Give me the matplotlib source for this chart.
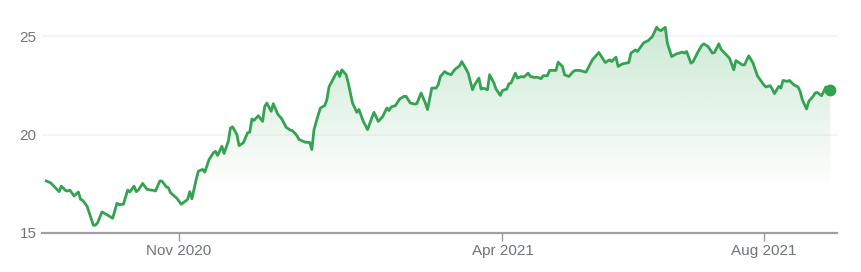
import numpy as np
import pandas as pd
import matplotlib
matplotlib.use("Agg")
import matplotlib.pyplot as plt
import matplotlib.dates as mdates
from matplotlib.colors import to_rgb

start_date = "2020-08-31"
day_offsets = [
    0, 2, 4, 6, 7, 9, 10, 11, 13, 15, 16, 17, 19, 20, 22, 23, 24, 26, 28, 31,
    33, 34, 36, 38, 39, 41, 42, 43, 45, 47, 49, 50, 51, 53, 54, 56, 57, 58, 61, 63,
    65, 66, 67, 68, 70, 71, 73, 74, 76, 78, 79, 80, 82, 83, 85, 86, 87, 89, 90, 92,
    94, 95, 96, 97, 99, 101, 102, 103, 105, 106, 108, 110, 112, 114, 115, 117, 118,
    121, 123, 124, 125, 127, 128, 130, 131, 132, 135, 136, 137, 138, 140, 141, 143,
    145, 146, 148, 149, 150, 152, 153, 155, 157, 159, 160, 161, 163, 165, 167, 168,
    170, 172, 173, 175, 177, 178, 180, 182, 183, 184, 186, 187, 189, 190, 191, 193,
    194, 196, 197, 199, 200, 202, 203, 204, 206, 207, 209, 210, 212, 213, 215, 216,
    217, 219, 220, 222, 223, 225, 226, 228, 229, 231, 232, 234, 235, 238, 239, 241,
    242, 244, 246, 247, 249,
    252, 255, 258, 260, 261, 263, 264, 266, 267, 269, 272, 273, 275, 276, 279, 281,
    283, 285, 286, 287, 289, 290, 292, 294, 297, 298, 299, 301, 302, 304, 306, 307,
    309, 311, 312, 314, 315, 318, 319, 321, 322, 325, 326, 328, 330, 332, 335, 336,
    338, 339, 340, 342, 343, 344, 346, 347, 349, 351, 352, 353, 355, 356, 358, 359,
    360, 362, 364, 365, 366,
]
prices = [
    17.64, 17.55, 17.33, 17.10, 17.38, 17.16, 17.13, 17.18, 16.88, 17.08, 16.71, 16.66,
    16.37, 16.04, 15.39, 15.40, 15.53, 16.07, 15.95, 15.75,
    16.51, 16.44, 16.46, 17.18, 17.08, 17.38, 17.10, 17.18, 17.52, 17.22, 17.18, 17.17,
    17.13, 17.64, 17.64, 17.35, 17.30, 17.05, 16.76, 16.46,
    16.62, 16.71, 17.10, 16.74, 17.72, 18.14, 18.23, 18.09, 18.73, 19.07, 19.15, 18.94,
    19.41, 19.04, 19.66, 20.34, 20.39, 20.00, 19.44, 19.58,
    20.09, 20.12, 20.79, 20.72, 20.96, 20.67, 21.43, 21.60, 21.18, 21.57, 21.05, 20.79,
    20.37, 20.22, 20.20, 19.95, 19.75,
    19.61, 19.60, 19.24, 20.25, 21.01, 21.35, 21.47, 21.77, 22.42, 23.04, 23.20, 22.95,
    23.29, 23.04, 22.62, 21.60,
    21.13, 21.27, 20.67, 20.47, 20.25, 20.85, 21.13, 20.67, 20.90, 21.35, 21.22, 21.40,
    21.47, 21.81, 21.94, 21.94,
    21.60, 21.55, 21.57, 22.11, 21.60, 21.27, 22.36, 22.36, 22.53, 22.95, 23.20, 23.12,
    23.04, 23.20, 23.33, 23.49,
    23.71, 23.33, 23.12, 22.28, 22.53, 22.87, 22.31, 22.36, 22.28, 23.04, 22.62, 22.31,
    21.99, 22.24, 22.31, 22.58,
    22.62, 23.12, 22.87, 22.95, 22.92, 23.12, 22.95, 22.90, 22.92, 22.84, 22.99, 22.99,
    23.26, 23.26, 23.68, 23.46,
    23.04, 22.95, 23.20, 23.26, 23.26,
    23.17, 23.80, 24.17, 23.83, 23.66, 23.80, 23.71, 23.93, 23.46, 23.59, 23.66, 24.14,
    24.30, 24.22, 24.67, 24.77,
    24.98, 25.45, 25.32, 25.28, 25.45, 24.64, 23.96, 24.09, 24.19, 24.14, 24.22, 23.63,
    23.70, 24.14, 24.52, 24.61,
    24.47, 24.14, 24.17, 24.61, 24.34, 24.00, 23.88, 23.29, 23.76, 23.54, 23.54, 24.00,
    23.63, 22.99, 22.53, 22.42,
    22.48, 22.31, 22.08, 22.45, 22.36, 22.75, 22.70, 22.75, 22.53, 22.42, 22.19, 21.77,
    21.30, 21.69, 21.94, 22.11,
    22.14, 21.97, 22.42, 22.28, 22.24,
]
tick_dates = ["2020-11-01", "2021-04-01", "2021-08-01"]
tick_labels = ["Nov 2020", "Apr 2021", "Aug 2021"]
y_ticks = [15, 20, 25]

plt.rcParams["font.family"] = ["Liberation Sans", "DejaVu Sans"]

dates = pd.Timestamp(start_date) + pd.to_timedelta(day_offsets, unit="D")
x = mdates.date2num(dates.to_pydatetime())
y = np.array(prices)

W, H = 861, 272
fig = plt.figure(figsize=(W / 100, H / 100), dpi=100)
ax = fig.add_axes([42 / W, 39 / H, 795 / W, 213 / H])

x0 = x[0] - 2.0
x1 = x[0] + 369.2
ymin, ymax = 15.0, 25.82
ax.set_xlim(x0, x1)
ax.set_ylim(ymin, ymax)

green = "#34a351"

# gradient fill
poly = ax.fill_between(x, y, ymin, facecolor="none", edgecolor="none")
n = 256
vals = np.linspace(ymax, ymin, n)
alpha = 0.25 * np.clip((vals - 17.2) / (25.5 - 17.2), 0, 1)
rgb = to_rgb("#34a853")
img = np.zeros((n, 2, 4))
img[..., 0], img[..., 1], img[..., 2] = rgb
img[..., 3] = alpha[:, None]
im = ax.imshow(img, extent=[x0, x1, ymin, ymax], aspect="auto", origin="upper",
               interpolation="bilinear", zorder=1)
im.set_clip_path(poly.get_paths()[0], transform=ax.transData)

ax.plot(x, y, color=green, lw=2.0, solid_joinstyle="round", zorder=3)
ax.plot(x[-1], y[-1], "o", ms=7.5, color=green, zorder=4)

ax.set_yticks(y_ticks)
ax.set_yticklabels([str(v) for v in y_ticks])
ax.yaxis.grid(True, color="#f4f4f4", lw=1.2)
ax.set_axisbelow(True)
ax.tick_params(axis="y", length=0, pad=4, labelsize=11, labelcolor="#757575")

ax.set_xticks(mdates.date2num(pd.to_datetime(tick_dates).to_pydatetime()))
ax.set_xticklabels(tick_labels)
ax.tick_params(axis="x", direction="out", length=6, width=1, color="#9e9e9e",
               labelsize=11, labelcolor="#70757a", pad=2)

for s in ["top", "left", "right"]:
    ax.spines[s].set_visible(False)
ax.spines["bottom"].set_color("#a0a0a0")
ax.spines["bottom"].set_linewidth(1.6)

fig.savefig("out.png", dpi=100, facecolor="white")
